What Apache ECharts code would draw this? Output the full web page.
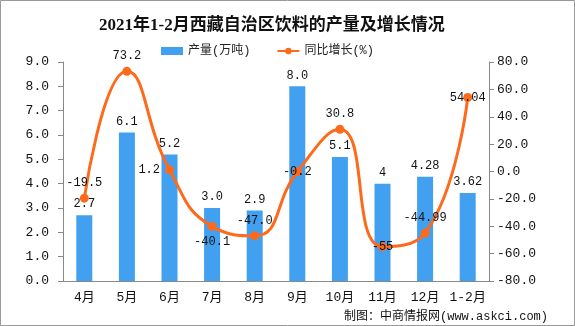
<!DOCTYPE html>
<html><head><meta charset="utf-8">
<script src="https://cdn.jsdelivr.net/npm/echarts@6/dist/echarts.min.js"></script>
<style>html,body{margin:0;padding:0;background:#fff}#c{width:575px;height:326px}</style>
</head><body><div id="c"></div>
<script>
const categories = ['4月','5月','6月','7月','8月','9月','10月','11月','12月','1-2月'];
const production = ['2.7','6.1','5.2','3.0','2.9','8.0','5.1','4','4.28','3.62'];
const growth = ['-19.5','73.2','1.2','-40.1','-47.0','-0.2','30.8','-55','-44.99','54.04'];
const leftTicks = {min:0, max:9, interval:1};
const rightTicks = {min:-80, max:80, interval:20};

const lineLabelPos = ['top','top','left','bottom','top','inside','top','inside','top','inside'];
const font = 'SimSun, "Liberation Mono", "Noto Sans CJK SC", monospace';
const chart = echarts.init(document.getElementById('c'));
chart.setOption({
  animation:false,
  backgroundColor:'#fff',
  title:{text:'2021年1-2月西藏自治区饮料的产量及增长情况', left:94, top:12,
    textStyle:{fontSize:17, fontWeight:'bold', color:'#111', fontFamily:'"Liberation Serif","Noto Sans CJK SC",serif'}},
  legend:{top:40, left:156, itemGap:26, itemWidth:22, itemHeight:8,
    textStyle:{fontSize:12, color:'#222', fontFamily:font},
    data:[{name:'产量(万吨)', icon:'rect'},{name:'同比增长(%)'}]},
  grid:{left:63, right:86, top:62, bottom:45},
  xAxis:{type:'category', data:categories,
    axisLine:{lineStyle:{color:'#888'}}, axisTick:{length:5, lineStyle:{color:'#888'}},
    axisLabel:{interval:0, color:'#111', fontSize:13, margin:10, fontFamily:font}},
  yAxis:[
    {type:'value', min:leftTicks.min, max:leftTicks.max, interval:leftTicks.interval,
     splitLine:{show:false}, axisLine:{show:true, lineStyle:{color:'#888'}},
     axisTick:{show:true, length:5, lineStyle:{color:'#888'}},
     axisLabel:{color:'#111', fontSize:13, margin:14, fontFamily:font, formatter:v=>v.toFixed(1)}},
    {type:'value', min:rightTicks.min, max:rightTicks.max, interval:rightTicks.interval,
     splitLine:{show:false}, axisLine:{show:true, lineStyle:{color:'#888'}},
     axisTick:{show:true, length:5, lineStyle:{color:'#888'}},
     axisLabel:{color:'#111', fontSize:13, margin:8, fontFamily:font, formatter:v=>v.toFixed(1)}}
  ],
  series:[
    {name:'产量(万吨)', type:'bar', barWidth:16, data:production,
     itemStyle:{color:'#41a0ef'},
     label:{show:true, position:'top', color:'#111', fontSize:12, fontFamily:font, formatter:p=>p.data}},
    {name:'同比增长(%)', type:'line', yAxisIndex:1, smooth:0.5, symbol:'circle', symbolSize:9,
     data:growth.map((v,i)=>({value:v, label:{position:lineLabelPos[i]}})),
     itemStyle:{color:'#fe6a1c'}, lineStyle:{color:'#fe6a1c', width:3},
     label:{show:true, color:'#111', fontSize:12, fontFamily:font, formatter:p=>growth[p.dataIndex]}}
  ],
  graphic:[
    {type:'rect', shape:{x:0.5,y:0.5,width:574,height:325}, style:{fill:null, stroke:'#999', lineWidth:1}, silent:true},
    {type:'text', right:27, bottom:3, style:{text:'制图：中商情报网(www.askci.com)', fontSize:12, fill:'#111', fontFamily:font}}
  ]
});
</script></body></html>
